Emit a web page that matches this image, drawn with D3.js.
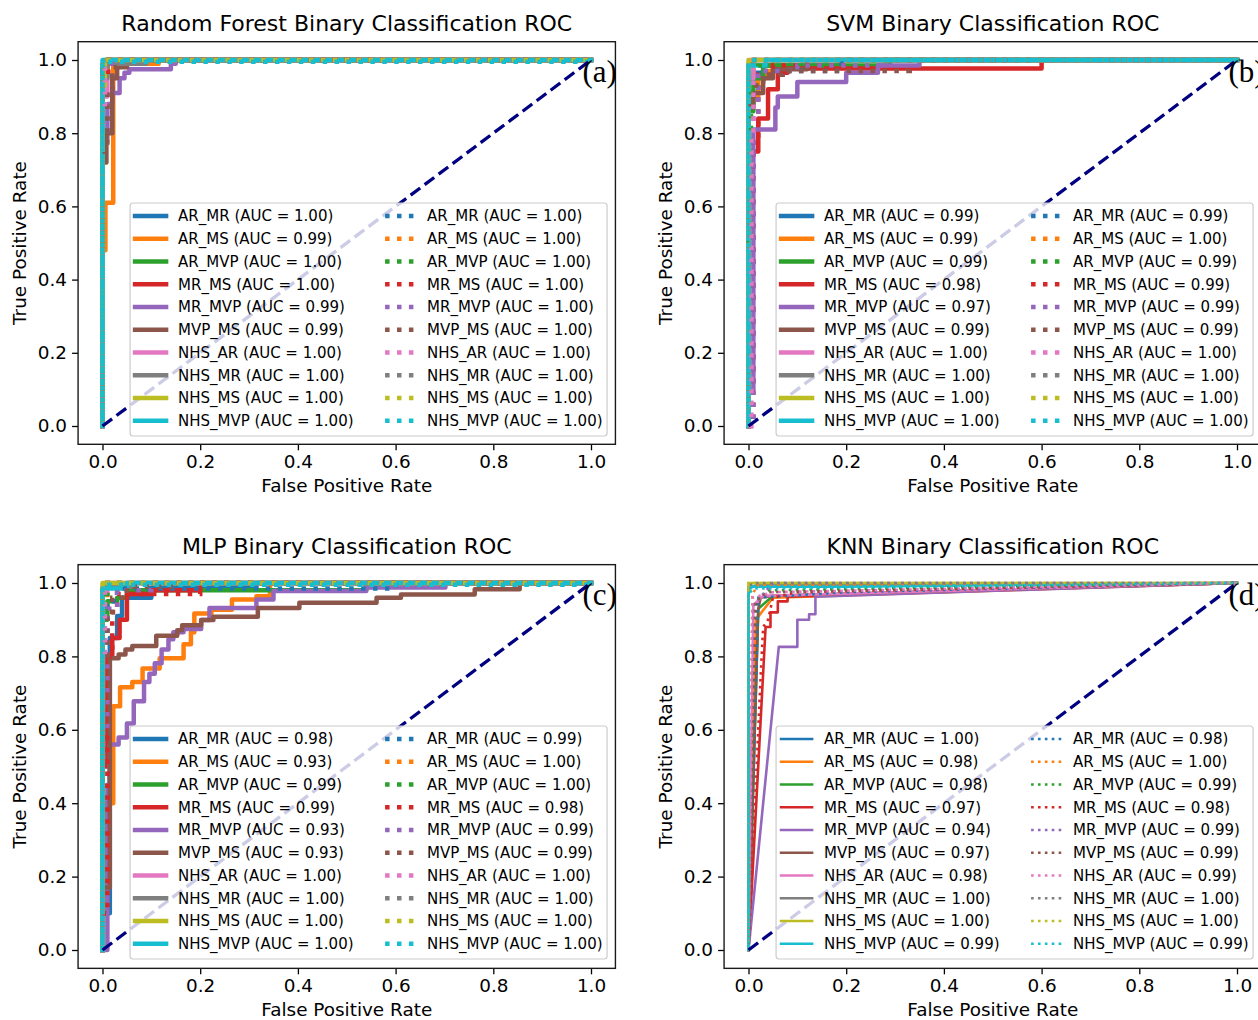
<!DOCTYPE html>
<html>
<head>
<meta charset="utf-8">
<script src="https://cdn.jsdelivr.net/npm/d3@7"></script>
<style>
  html, body { margin: 0; padding: 0; background: #ffffff; }
  svg { display: block; font-family: "DejaVu Sans", sans-serif; }
</style>
</head>
<body>
<svg id="chart" width="1258" height="1020"></svg>
<script>
// ---------------- data ----------------
const names = ["AR_MR", "AR_MS", "AR_MVP", "MR_MS", "MR_MVP", "MVP_MS", "NHS_AR", "NHS_MR", "NHS_MS", "NHS_MVP"];
const colors = ["#1f77b4", "#ff7f0e", "#2ca02c", "#d62728", "#9467bd", "#8c564b", "#e377c2", "#7f7f7f", "#bcbd22", "#17becf"];
const tickValues = [0, 0.2, 0.4, 0.6, 0.8, 1.0];
const titles = ["Random Forest Binary Classification ROC", "SVM Binary Classification ROC", "MLP Binary Classification ROC", "KNN Binary Classification ROC"];
const panelLabels = ["(a)", "(b)", "(c)", "(d)"];

const rfAucSolid  = [1.00, 0.99, 1.00, 1.00, 0.99, 0.99, 1.00, 1.00, 1.00, 1.00];
const rfAucDotted = [1.00, 1.00, 1.00, 1.00, 1.00, 1.00, 1.00, 1.00, 1.00, 1.00];
const svmAucSolid  = [0.99, 0.99, 0.99, 0.98, 0.97, 0.99, 1.00, 1.00, 1.00, 1.00];
const svmAucDotted = [0.99, 1.00, 0.99, 0.99, 0.99, 0.99, 1.00, 1.00, 1.00, 1.00];
const mlpAucSolid  = [0.98, 0.93, 0.99, 0.99, 0.93, 0.93, 1.00, 1.00, 1.00, 1.00];
const mlpAucDotted = [0.99, 1.00, 1.00, 0.98, 0.99, 0.99, 1.00, 1.00, 1.00, 1.00];
const knnAucSolid  = [1.00, 0.98, 0.98, 0.97, 0.94, 0.97, 0.98, 1.00, 1.00, 0.99];
const knnAucDotted = [0.98, 1.00, 0.99, 0.98, 0.99, 0.99, 0.99, 1.00, 1.00, 0.99];

// ROC curves as [FPR, TPR] points, in legend order
const rfSolid = [
  [[0,0],[0,0.97],[0.01,0.97],[0.01,1],[1,1]],
  [[0,0],[0,0.48],[0.006,0.48],[0.006,0.61],[0.022,0.61],[0.022,0.99],[0.115,0.99],[0.115,1],[1,1]],
  [[0,0],[0,0.96],[0.01,0.96],[0.01,1],[1,1]],
  [[0,0],[0,0.98],[0.01,0.98],[0.01,1],[1,1]],
  [[0,0],[0,0.78],[0.01,0.78],[0.01,0.88],[0.02,0.88],[0.02,0.91],[0.035,0.91],[0.035,0.95],[0.045,0.95],[0.045,0.965],[0.055,0.965],[0.055,0.975],[0.14,0.975],[0.14,0.99],[0.15,0.99],[0.15,1],[1,1]],
  [[0,0],[0,0.72],[0.008,0.72],[0.008,0.80],[0.02,0.80],[0.02,0.95],[0.03,0.95],[0.03,0.98],[0.05,0.98],[0.05,1],[1,1]],
  [[0,0],[0,0.9],[0.01,0.9],[0.01,1],[1,1]],
  [[0,0],[0,0.95],[0.01,0.95],[0.01,0.99],[0.09,0.99],[0.09,1],[1,1]],
  [[0,0],[0,0.93],[0.005,0.93],[0.005,1],[1,1]],
  [[0,0],[0,1],[1,1]]
];
const rfDotted = [
  [[0,0],[0,1],[1,1]],
  [[0,0],[0,0.97],[0.01,0.97],[0.01,1],[1,1]],
  [[0,0],[0,0.98],[0.005,0.98],[0.005,1],[1,1]],
  [[0,0],[0,0.96],[0.012,0.96],[0.012,1],[1,1]],
  [[0,0],[0,0.8],[0.01,0.8],[0.01,0.92],[0.02,0.92],[0.02,1],[1,1]],
  [[0,0],[0,0.75],[0.01,0.75],[0.01,0.92],[0.02,0.92],[0.02,0.98],[0.03,0.98],[0.03,1],[1,1]],
  [[0,0],[0,0.88],[0.005,0.88],[0.005,1],[1,1]],
  [[0,0],[0,1],[1,1]],
  [[0,0],[0,1],[1,1]],
  [[0,0],[0,0.995],[1,0.995],[1,1]]
];

const svmSolid = [
  [[0,0],[0,0.94],[0.01,0.94],[0.01,0.965],[0.03,0.965],[0.03,0.985],[0.19,0.985],[0.19,1],[1,1]],
  [[0,0],[0,0.9],[0.02,0.9],[0.02,0.95],[0.035,0.95],[0.035,0.97],[0.05,0.97],[0.05,1],[1,1]],
  [[0,0],[0,0.86],[0.01,0.86],[0.01,0.95],[0.03,0.95],[0.03,0.985],[0.29,0.985],[0.29,1],[1,1]],
  [[0,0],[0,0.75],[0.02,0.75],[0.02,0.84],[0.04,0.84],[0.04,0.92],[0.06,0.92],[0.06,0.965],[0.08,0.965],[0.08,0.977],[0.6,0.977],[0.6,1],[1,1]],
  [[0,0],[0,0.1],[0.01,0.1],[0.01,0.81],[0.055,0.81],[0.055,0.87],[0.06,0.87],[0.06,0.9],[0.1,0.9],[0.1,0.94],[0.2,0.94],[0.2,0.965],[0.265,0.965],[0.265,0.985],[0.35,0.985],[0.35,1],[1,1]],
  [[0,0],[0,0.87],[0.01,0.87],[0.01,0.91],[0.03,0.91],[0.03,0.95],[0.05,0.95],[0.05,0.975],[0.12,0.975],[0.12,1],[1,1]],
  [[0,0],[0,0.95],[0.01,0.95],[0.01,1],[1,1]],
  [[0,0],[0,0.99],[0.01,0.99],[0.01,1],[1,1]],
  [[0,0],[0,1],[1,1]],
  [[0,0],[0,0.985],[0.035,0.985],[0.035,1],[1,1]]
];
const svmDotted = [
  [[0,0],[0,0.95],[0.02,0.95],[0.02,0.97],[0.19,0.97],[0.19,1],[1,1]],
  [[0,0],[0,0.97],[0.01,0.97],[0.01,1],[1,1]],
  [[0,0],[0,0.5],[0.005,0.5],[0.005,0.93],[0.02,0.93],[0.02,0.985],[0.15,0.985],[0.15,1],[1,1]],
  [[0,0],[0.01,0],[0.01,0.78],[0.02,0.78],[0.02,0.96],[0.05,0.96],[0.05,0.985],[0.2,0.985],[0.2,1],[1,1]],
  [[0,0],[0.01,0],[0.01,0.85],[0.02,0.85],[0.02,0.97],[0.1,0.97],[0.1,0.985],[0.27,0.985],[0.27,1],[1,1]],
  [[0,0],[0,0.88],[0.01,0.88],[0.01,0.93],[0.03,0.93],[0.03,0.96],[0.07,0.96],[0.07,0.97],[0.33,0.97],[0.33,1],[1,1]],
  [[0,0],[0.006,0],[0.006,0.8],[0.01,0.8],[0.01,1],[1,1]],
  [[0,0],[0,1],[1,1]],
  [[0,0],[0,1],[1,1]],
  [[0,0],[0,1],[1,1]]
];

const mlpSolid = [
  [[0,0],[0,0.1],[0.015,0.1],[0.015,0.85],[0.03,0.85],[0.03,0.91],[0.04,0.91],[0.04,0.96],[0.1,0.96],[0.1,0.988],[0.315,0.988],[0.315,1],[1,1]],
  [[0,0],[0,0.1],[0.006,0.1],[0.006,0.4],[0.022,0.4],[0.022,0.664],[0.036,0.664],[0.036,0.716],[0.061,0.716],[0.061,0.73],[0.082,0.73],[0.082,0.767],[0.117,0.767],[0.117,0.795],[0.166,0.795],[0.166,0.833],[0.181,0.833],[0.181,0.866],[0.188,0.866],[0.188,0.917],[0.223,0.917],[0.223,0.927],[0.265,0.927],[0.265,0.955],[0.315,0.955],[0.315,0.964],[0.343,0.964],[0.343,1],[1,1]],
  [[0,0],[0,0.9],[0.01,0.9],[0.01,0.95],[0.03,0.95],[0.03,0.96],[0.05,0.96],[0.05,0.98],[0.54,0.98],[0.54,1],[1,1]],
  [[0,0],[0,0.5],[0.01,0.5],[0.01,0.8],[0.02,0.8],[0.02,0.85],[0.035,0.85],[0.035,0.9],[0.05,0.9],[0.05,0.97],[0.1,0.97],[0.1,0.98],[0.2,0.98],[0.2,1],[1,1]],
  [[0,0],[0.01,0],[0.01,0.45],[0.015,0.45],[0.015,0.56],[0.033,0.56],[0.033,0.579],[0.05,0.579],[0.05,0.617],[0.064,0.617],[0.064,0.678],[0.085,0.678],[0.085,0.73],[0.096,0.73],[0.096,0.753],[0.107,0.753],[0.107,0.781],[0.121,0.781],[0.121,0.819],[0.135,0.819],[0.135,0.847],[0.145,0.847],[0.145,0.866],[0.166,0.866],[0.166,0.875],[0.202,0.875],[0.202,0.899],[0.219,0.899],[0.219,0.932],[0.315,0.932],[0.315,0.955],[0.35,0.955],[0.35,0.978],[0.54,0.978],[0.54,0.988],[0.702,0.988],[0.702,1],[1,1]],
  [[0,0],[0,0.17],[0.015,0.17],[0.015,0.795],[0.033,0.795],[0.033,0.805],[0.047,0.805],[0.047,0.819],[0.061,0.819],[0.061,0.828],[0.11,0.828],[0.11,0.856],[0.153,0.856],[0.153,0.871],[0.163,0.871],[0.163,0.885],[0.202,0.885],[0.202,0.899],[0.227,0.899],[0.227,0.908],[0.318,0.908],[0.318,0.932],[0.403,0.932],[0.403,0.946],[0.561,0.946],[0.561,0.96],[0.611,0.96],[0.611,0.969],[0.762,0.969],[0.762,0.983],[0.854,0.983],[0.854,1],[1,1]],
  [[0,0],[0,0.97],[0.01,0.97],[0.01,1],[1,1]],
  [[0,0],[0,0.99],[0.06,0.99],[0.06,1],[1,1]],
  [[0,0],[0,1],[1,1]],
  [[0,0],[0,0.985],[0.05,0.985],[0.05,1],[1,1]]
];
const mlpDotted = [
  [[0,0],[0,0.85],[0.01,0.85],[0.01,0.95],[0.03,0.95],[0.03,0.985],[0.6,0.985],[0.6,1],[1,1]],
  [[0,0],[0,0.95],[0.01,0.95],[0.01,1],[1,1]],
  [[0,0],[0,0.97],[0.01,0.97],[0.01,1],[1,1]],
  [[0,0],[0,0.1],[0.01,0.1],[0.01,0.8],[0.02,0.8],[0.02,0.92],[0.03,0.92],[0.03,0.97],[0.2,0.97],[0.2,1],[1,1]],
  [[0,0],[0,0.6],[0.01,0.6],[0.01,0.93],[0.03,0.93],[0.03,0.98],[0.1,0.98],[0.1,1],[1,1]],
  [[0,0],[0,0.8],[0.01,0.8],[0.01,0.92],[0.02,0.92],[0.02,0.96],[0.05,0.96],[0.05,0.99],[0.15,0.99],[0.15,1],[1,1]],
  [[0,0],[0,0.8],[0.005,0.8],[0.005,1],[1,1]],
  [[0,0],[0,1],[1,1]],
  [[0,0],[0,1],[1,1]],
  [[0,0],[0,0.995],[1,0.995],[1,1]]
];

const knnSolid = [
  [[0,0],[0,0.985],[0.02,0.995],[1,1]],
  [[0,0],[0.015,0.9],[0.05,0.96],[1,1]],
  [[0,0],[0.02,0.93],[0.05,0.965],[1,1]],
  [[0,0],[0.035,0.88],[0.045,0.88],[0.045,0.92],[0.06,0.92],[0.06,0.95],[0.08,0.95],[0.08,0.963],[1,1]],
  [[0,0],[0.062,0.826],[0.1,0.826],[0.1,0.9],[0.124,0.9],[0.124,0.915],[0.137,0.915],[0.137,0.963],[1,1]],
  [[0,0],[0.02,0.93],[0.025,0.96],[0.05,0.965],[1,1]],
  [[0,0],[0.01,0.94],[0.03,0.965],[1,1]],
  [[0,0],[0,0.99],[0.03,0.995],[1,1]],
  [[0,0],[0,1],[1,1]],
  [[0,0],[0,0.97],[0.005,0.99],[0.2,0.99],[1,1]]
];
const knnDotted = [
  [[0,0],[0.02,0.96],[0.2,0.975],[1,1]],
  [[0,0],[0.008,0.97],[0.02,0.995],[1,1]],
  [[0,0],[0.015,0.95],[0.04,0.98],[1,1]],
  [[0,0],[0.025,0.75],[0.03,0.88],[0.04,0.9],[0.05,0.96],[0.1,0.975],[1,1]],
  [[0,0],[0.01,0.94],[0.05,1],[1,1]],
  [[0,0],[0.015,0.95],[0.04,0.975],[1,1]],
  [[0,0],[0.008,0.96],[0.05,0.975],[1,1]],
  [[0,0],[0,0.99],[0.01,1],[1,1]],
  [[0,0],[0,1],[1,1]],
  [[0,0],[0,0.97],[0.01,0.985],[1,1]]
];

// ---------------- layout ----------------
const panels = [
  { title: titles[0], label: panelLabels[0], solid: rfSolid,  dotted: rfDotted,  aucS: rfAucSolid,  aucD: rfAucDotted,  x0: 102.5, y0: 426, uy: 366, lw: 4.5 },
  { title: titles[1], label: panelLabels[1], solid: svmSolid, dotted: svmDotted, aucS: svmAucSolid, aucD: svmAucDotted, x0: 748.5, y0: 426, uy: 366, lw: 4.5 },
  { title: titles[2], label: panelLabels[2], solid: mlpSolid, dotted: mlpDotted, aucS: mlpAucSolid, aucD: mlpAucDotted, x0: 102.5, y0: 950, uy: 367, lw: 4.5 },
  { title: titles[3], label: panelLabels[3], solid: knnSolid, dotted: knnDotted, aucS: knnAucSolid, aucD: knnAucDotted, x0: 748.5, y0: 950, uy: 367, lw: 2.6 }
];
const ux = 488.5;

const svg = d3.select("#chart");
svg.append("rect").attr("width", 1258).attr("height", 1020).attr("fill", "#ffffff");

panels.forEach((p, pi) => {
  const x = d3.scaleLinear().domain([-0.05, 1.05]).range([p.x0 - 0.05 * ux, p.x0 + 1.05 * ux]);
  const y = d3.scaleLinear().domain([-0.05, 1.05]).range([p.y0 + 0.05 * p.uy, p.y0 - 1.05 * p.uy]);
  const left = x(-0.05), right = x(1.05), top = y(1.05), bottom = y(-0.05);
  const g = svg.append("g");

  const clipId = "clip" + pi;
  g.append("clipPath").attr("id", clipId)
    .append("rect").attr("x", left).attr("y", top).attr("width", right - left).attr("height", bottom - top);

  const line = d3.line().x(d => x(d[0])).y(d => y(d[1]));
  const plot = g.append("g").attr("clip-path", `url(#${clipId})`);
  const dotDash = [p.lw, p.lw * 1.65].join(",");

  // solid curves
  p.solid.forEach((pts, i) => {
    plot.append("path").attr("d", line(pts))
      .attr("fill", "none").attr("stroke", colors[i]).attr("stroke-width", p.lw)
      .attr("stroke-linejoin", "round").attr("stroke-linecap", "square");
  });
  // dotted curves
  p.dotted.forEach((pts, i) => {
    plot.append("path").attr("d", line(pts))
      .attr("fill", "none").attr("stroke", colors[i]).attr("stroke-width", p.lw)
      .attr("stroke-dasharray", dotDash).attr("stroke-linecap", "butt");
  });
  // chance diagonal
  plot.append("path").attr("d", line([[0, 0], [1, 1]]))
    .attr("fill", "none").attr("stroke", "#000080").attr("stroke-width", 3.3)
    .attr("stroke-dasharray", "12,5.5");

  // axes
  const xAxis = d3.axisBottom(x).tickValues(tickValues).tickFormat(d3.format(".1f")).tickSize(6).tickPadding(5);
  const yAxis = d3.axisLeft(y).tickValues(tickValues).tickFormat(d3.format(".1f")).tickSize(6).tickPadding(5);
  const gx = g.append("g").attr("transform", `translate(0,${bottom})`).call(xAxis);
  const gy = g.append("g").attr("transform", `translate(${left},0)`).call(yAxis);
  [gx, gy].forEach(a => {
    a.select(".domain").remove();
    a.selectAll(".tick line").attr("stroke", "#000").attr("stroke-width", 1.3);
    a.selectAll(".tick text").attr("fill", "#000").style("font-size", "18.4px").style("font-family", "DejaVu Sans");
  });

  // legend
  const lx = left + 52, ly = y(1) + 143;
  const lg = g.append("g");
  lg.append("rect").attr("x", lx).attr("y", ly).attr("width", 477).attr("height", 233)
    .attr("rx", 3).attr("fill", "#ffffff").attr("fill-opacity", 0.8)
    .attr("stroke", "#cccccc").attr("stroke-width", 1.2);
  names.forEach((n, i) => {
    const ry = ly + 13 + i * 22.75;
    lg.append("line").attr("x1", lx + 5).attr("x2", lx + 36).attr("y1", ry).attr("y2", ry)
      .attr("stroke", colors[i]).attr("stroke-width", p.lw).attr("stroke-linecap", "square");
    lg.append("text").attr("x", lx + 48).attr("y", ry).attr("dy", "0.36em")
      .style("font-size", "15px").attr("fill", "#000")
      .text(`${n} (AUC = ${p.aucS[i].toFixed(2)})`);
    lg.append("line").attr("x1", lx + 255).attr("x2", lx + 286).attr("y1", ry).attr("y2", ry)
      .attr("stroke", colors[i]).attr("stroke-width", p.lw).attr("stroke-dasharray", dotDash)
      .attr("stroke-linecap", "butt");
    lg.append("text").attr("x", lx + 297).attr("y", ry).attr("dy", "0.36em")
      .style("font-size", "15px").attr("fill", "#000")
      .text(`${n} (AUC = ${p.aucD[i].toFixed(2)})`);
  });

  // frame
  g.append("rect").attr("x", left).attr("y", top).attr("width", right - left).attr("height", bottom - top)
    .attr("fill", "none").attr("stroke", "#1a1a1a").attr("stroke-width", 1.4);

  // title and axis labels
  const cx = (left + right) / 2;
  g.append("text").attr("x", cx).attr("y", top - 11).attr("text-anchor", "middle")
    .style("font-size", "22px").attr("fill", "#000").text(p.title);
  g.append("text").attr("x", cx).attr("y", bottom + 48).attr("text-anchor", "middle")
    .style("font-size", "18.4px").attr("fill", "#000").text("False Positive Rate");
  g.append("text").attr("transform", `translate(${left - 52},${(top + bottom) / 2}) rotate(-90)`)
    .attr("text-anchor", "middle").style("font-size", "18.4px").attr("fill", "#000").text("True Positive Rate");

  // panel label
  g.append("text").attr("x", right - 33).attr("y", y(1) + 22)
    .style("font-family", "'Liberation Serif', 'Times New Roman', serif").style("font-size", "31px")
    .attr("fill", "#000").text(p.label);
});
</script>
</body>
</html>
